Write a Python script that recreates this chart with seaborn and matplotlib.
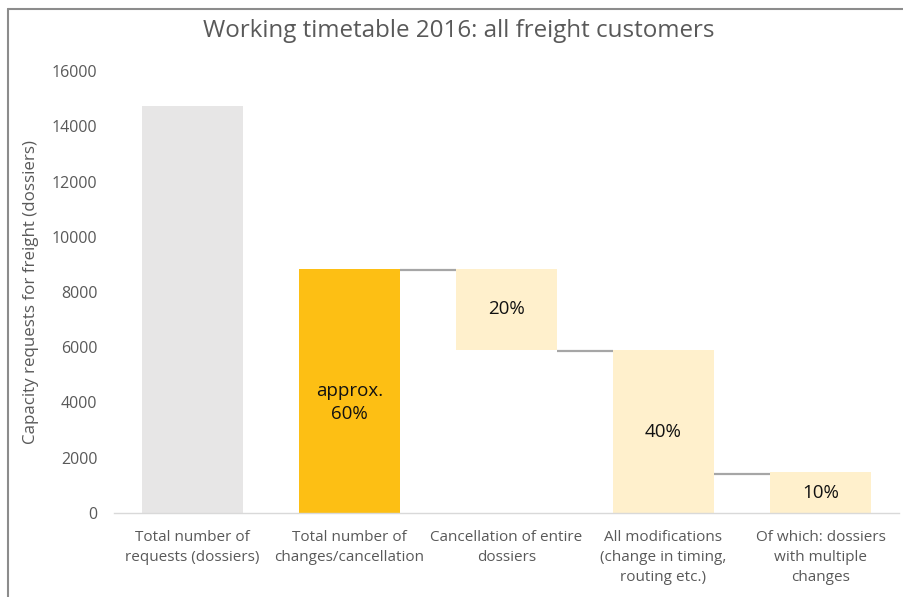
import pandas as pd
import matplotlib.pyplot as plt
import seaborn as sns

# Waterfall values (dossiers)
categories = [
    "Total number of\nrequests (dossiers)",
    "Total number of\nchanges/cancellation",
    "Cancellation of entire\ndossiers",
    "All modifications\n(change in timing,\nrouting etc.)",
    "Of which: dossiers\nwith multiple\nchanges",
]
bar_tops = [14750, 8850, 8850, 5900, 1475]
bar_bottoms = [0, 0, 5900, 0, 0]
bar_labels = ["", "approx.\n60%", "20%", "40%", "10%"]
bar_colors = ["#E7E6E6", "#FDBF14", "#FFF0CC", "#FFF0CC", "#FFF0CC"]
# connector after bar i (to bar i+1)
connector_levels = [None, 8800, 5870, 1410]

df = pd.DataFrame({
    "category": categories,
    "height": [t - b for t, b in zip(bar_tops, bar_bottoms)],
    "bottom": bar_bottoms,
})

sns.set_style("white")
plt.rcParams["font.family"] = ["Open Sans", "DejaVu Sans"]

fig = plt.figure(figsize=(9.04, 5.97), dpi=100)
ax = fig.add_axes([114 / 904, 1 - 513 / 597, 785 / 904, (513 - 71) / 597])

w = 0.645
sns.barplot(data=df, x="category", y="height", bottom=df["bottom"].values,
            width=w, color="#E7E6E6", ax=ax, errorbar=None)
for patch, c in zip(ax.patches, bar_colors):
    patch.set_facecolor(c)
    patch.set_edgecolor("none")

# connector lines between bars
for i, level in enumerate(connector_levels):
    if level is None:
        continue
    ax.hlines(level, i + w / 2, i + 1 - w / 2, color="#A6A6A6", lw=1.6, zorder=0)

# data labels
for i, lab in enumerate(bar_labels):
    if lab:
        mid = (bar_tops[i] + bar_bottoms[i]) / 2
        if i == 1:
            mid = 4000
        ax.text(i, mid, lab, ha="center", va="center", fontsize=13.5,
                color="#111111", linespacing=1.4)

ax.set_ylim(0, 16000)
ax.set_xlim(-0.5, len(categories) - 0.5)
ax.set_yticks(range(0, 16001, 2000))
ax.tick_params(axis="y", labelsize=11.5, colors="#595959", length=0, pad=12)
ax.tick_params(axis="x", labelsize=11, colors="#595959", length=0, pad=12)
for t in ax.get_xticklabels():
    t.set_linespacing(1.45)
ax.set_xlabel("")
ax.set_ylabel("Capacity requests for freight (dossiers)", fontsize=12.2,
              color="#595959", labelpad=9)
for s in ["top", "right", "left"]:
    ax.spines[s].set_visible(False)
ax.spines["bottom"].set_color("#D9D9D9")
ax.spines["bottom"].set_linewidth(1)

fig.text(459 / 904, 1 - 31 / 597, "Working timetable 2016: all freight customers",
         ha="center", va="center", fontsize=17.4, color="#595959")

# outer chart frame (partially visible)
fig.add_artist(plt.Line2D([8 / 904, 8 / 904], [0, 1 - 9 / 597], color="#8C8C8C", lw=1.5))
fig.add_artist(plt.Line2D([8 / 904, 1], [1 - 9 / 597, 1 - 9 / 597], color="#8C8C8C", lw=1.5))

fig.savefig("out.png", dpi=100)
